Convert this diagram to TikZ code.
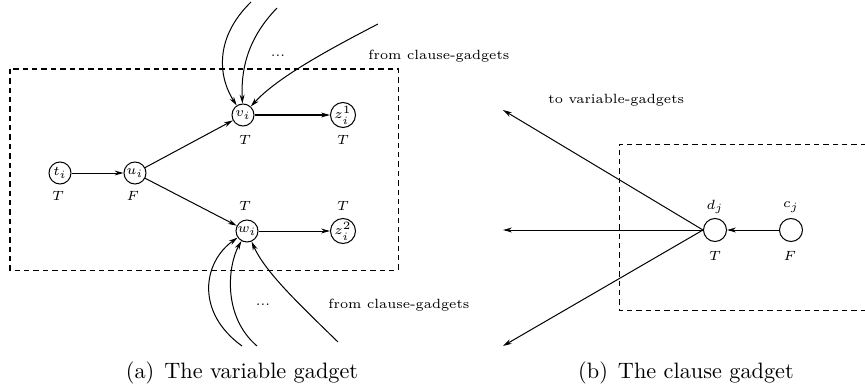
\documentclass[tikz,border=0pt]{standalone}
\usetikzlibrary{arrows.meta}
\begin{document}
\begin{tikzpicture}[x=0.449pt,y=-0.449pt,
  lw/.style={line width=0.45pt},
  vtx/.style={circle,draw,lw,inner sep=0pt,minimum size=22*0.449pt,font=\fontsize{6}{7}\selectfont},
  bigvtx/.style={circle,draw,lw,inner sep=0pt,minimum size=23*0.449pt},
  lbl/.style={font=\fontsize{6}{7}\selectfont,inner sep=0pt},
  arr/.style={lw,-{Stealth[length=4pt,width=2.2pt]}},
  box/.style={lw,dash pattern=on 2.4pt off 1.8pt},
  captxt/.style={font=\fontsize{10}{12}\selectfont,inner sep=0pt}]
\useasboundingbox (0,0) rectangle (865,389);
% ---- (a) variable gadget
\draw[box] (10,69) rectangle (398,270);
\node[vtx] (t) at (60,173) {$t_i$};
\node[vtx] (u) at (135,173) {$u_i$};
\node[vtx] (v) at (243,115) {$v_i$};
\node[vtx] (z1) at (343,115) {$z_i^1$};
\node[vtx] (w) at (247,231) {$w_i$};
\node[vtx] (z2) at (343,231) {$z_i^2$};
\node[lbl] (lt) at (58,196) {$T$};
\node[lbl] (lu) at (133,196) {$F$};
\node[lbl] (lv) at (245,140) {$T$};
\node[lbl] (lz1) at (343,140) {$T$};
\node[lbl] (lw) at (245,206) {$T$};
\node[lbl] (lz2) at (343,206) {$T$};
\draw[arr] (t) -- (u);
\draw[arr] (u) -- (v);
\draw[arr] (u) -- (w);
\draw[arr] (v) -- (z1);
\draw[arr] (w) -- (z2);
\coordinate (a1) at (251,2);
\coordinate (a2) at (277,8);
\coordinate (a3) at (378,24);
\draw[arr] (a1) .. controls (212,40) and (220,80) .. (v);
\draw[arr] (a2) .. controls (246,40) and (241,72) .. (v);
\draw[arr] (a3) .. controls (318,55) and (275,80) .. (v);
\coordinate (b1) at (242,346);
\coordinate (b2) at (257,346);
\coordinate (b3) at (338,342);
\draw[arr] (b1) .. controls (195,312) and (203,262) .. (w);
\draw[arr] (b2) .. controls (222,316) and (228,265) .. (w);
\draw[arr] (b3) .. controls (300,305) and (265,272) .. (w);
\node[lbl] (dots1) at (278,56) {...};
\node[lbl,anchor=west] (fc1) at (368,56) {from clause-gadgets};
\node[lbl] (dots2) at (263,305) {...};
\node[lbl,anchor=west] (fc2) at (328,305) {from clause-gadgets};
\node[captxt] (capa) at (242,373) {(a)\hspace{4.5pt}The variable gadget};
% ---- (b) clause gadget
\draw[box] (866,144) -- (619,144) -- (619,310) -- (866,310);
\node[bigvtx] (d) at (715,230) {};
\node[bigvtx] (c) at (791,230) {};
\node[lbl] (ld) at (715,207) {$d_j$};
\node[lbl] (lc) at (791,207) {$c_j$};
\node[lbl] (ldT) at (715,256) {$T$};
\node[lbl] (lcF) at (790,256) {$F$};
\draw[arr] (c) -- (d);
\coordinate (e1) at (503,110);
\coordinate (e2) at (503,230);
\coordinate (e3) at (503,346);
\draw[arr] (d.west) -- (e1);
\draw[arr] (d.west) -- (e2);
\draw[arr] (d.west) -- (e3);
\node[lbl,anchor=west] (tv) at (548,100) {to variable-gadgets};
\node[captxt] (capb) at (686,373) {(b)\hspace{4.5pt}The clause gadget};
\end{tikzpicture}
\end{document}
